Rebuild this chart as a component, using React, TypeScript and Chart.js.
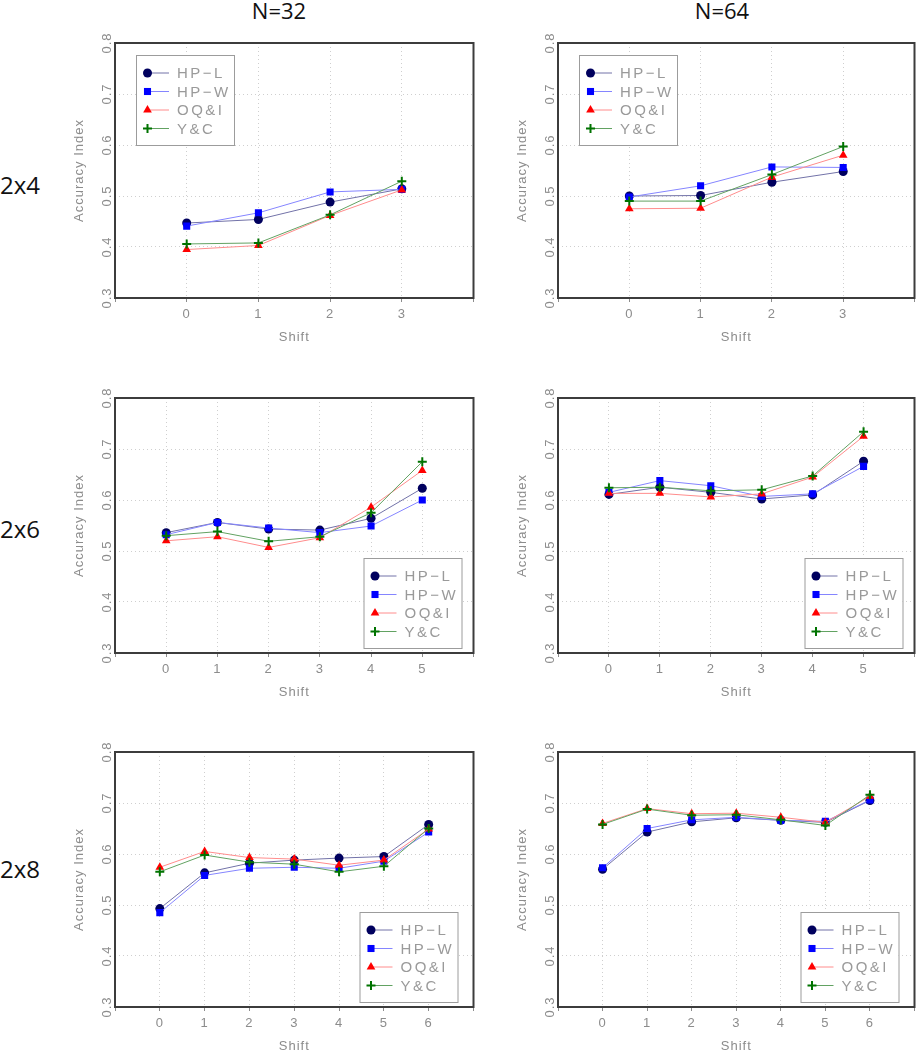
import React, { useEffect, useRef } from 'react';
import { Chart, registerables } from 'chart.js';

Chart.register(...registerables);

// ---- Data ----
const SERIES_LABELS = ['HP\u2212L', 'HP\u2212W', 'OQ&I', 'Y&C'];
const COLUMN_TITLES = ['N=32', 'N=64'];
const ROW_TITLES = ['2x4', '2x6', '2x8'];
const Y_MIN = 0.3;
const Y_MAX = 0.8;

const SHIFTS_2X4 = [0, 1, 2, 3];
const SHIFTS_2X6 = [0, 1, 2, 3, 4, 5];
const SHIFTS_2X8 = [0, 1, 2, 3, 4, 5, 6];

const N32_2X4_HPL = [0.447, 0.454, 0.488, 0.514];
const N32_2X4_HPW = [0.441, 0.467, 0.508, 0.513];
const N32_2X4_OQI = [0.395, 0.403, 0.462, 0.512];
const N32_2X4_YC = [0.406, 0.408, 0.463, 0.529];

const N64_2X4_HPL = [0.5, 0.501, 0.527, 0.548];
const N64_2X4_HPW = [0.498, 0.52, 0.557, 0.556];
const N64_2X4_OQI = [0.475, 0.476, 0.537, 0.58];
const N64_2X4_YC = [0.49, 0.49, 0.542, 0.597];

const N32_2X6_HPL = [0.536, 0.556, 0.543, 0.541, 0.564, 0.623];
const N32_2X6_HPW = [0.532, 0.556, 0.545, 0.536, 0.549, 0.6];
const N32_2X6_OQI = [0.52, 0.528, 0.507, 0.526, 0.586, 0.658];
const N32_2X6_YC = [0.53, 0.538, 0.519, 0.528, 0.575, 0.675];

const N64_2X6_HPL = [0.611, 0.625, 0.615, 0.602, 0.61, 0.676];
const N64_2X6_HPW = [0.615, 0.638, 0.628, 0.607, 0.612, 0.666];
const N64_2X6_OQI = [0.613, 0.613, 0.606, 0.612, 0.645, 0.725];
const N64_2X6_YC = [0.624, 0.625, 0.618, 0.62, 0.647, 0.734];

const N32_2X8_HPL = [0.493, 0.563, 0.582, 0.588, 0.592, 0.595, 0.658];
const N32_2X8_HPW = [0.485, 0.558, 0.572, 0.574, 0.572, 0.586, 0.643];
const N32_2X8_OQI = [0.574, 0.605, 0.593, 0.59, 0.578, 0.588, 0.649];
const N32_2X8_YC = [0.565, 0.598, 0.584, 0.58, 0.565, 0.576, 0.65];

const N64_2X8_HPL = [0.57, 0.643, 0.663, 0.671, 0.666, 0.662, 0.705];
const N64_2X8_HPW = [0.573, 0.65, 0.667, 0.672, 0.666, 0.664, 0.706];
const N64_2X8_OQI = [0.66, 0.689, 0.679, 0.68, 0.672, 0.662, 0.713];
const N64_2X8_YC = [0.658, 0.688, 0.676, 0.677, 0.667, 0.656, 0.716];

// ---- Styles ----
const POINT_COLORS = ['#00005e', '#0000ff', '#ff0000', '#007300'];
const LINE_COLORS = ['#7272a8', '#8585ff', '#ff8c8c', '#62a262'];
const POINT_STYLES = ['circle', 'rect', 'triangle', 'cross'];
const POINT_RADII = [4.5, 5, 5, 4.5];
const AXIS_TEXT = '#8c8c8c';
const FONT = 'Liberation Sans, Arial, sans-serif';

type PanelCfg = {
  shifts: number[];
  series: number[][];
  left: number;
  top: number;
  width: number;
  padRight: number;
  legend: { corner: 'tl' | 'br'; dx: number; dy: number };
};

const PANELS: PanelCfg[] = [
  { shifts: SHIFTS_2X4, series: [N32_2X4_HPL, N32_2X4_HPW, N32_2X4_OQI, N32_2X4_YC], left: 60, top: 25, width: 420, padRight: 5, legend: { corner: 'tl', dx: 21, dy: 12 } },
  { shifts: SHIFTS_2X4, series: [N64_2X4_HPL, N64_2X4_HPW, N64_2X4_OQI, N64_2X4_YC], left: 503, top: 25, width: 418, padRight: 3, legend: { corner: 'tl', dx: 21, dy: 12 } },
  { shifts: SHIFTS_2X6, series: [N32_2X6_HPL, N32_2X6_HPW, N32_2X6_OQI, N32_2X6_YC], left: 60, top: 380, width: 420, padRight: 5, legend: { corner: 'br', dx: 12, dy: 5 } },
  { shifts: SHIFTS_2X6, series: [N64_2X6_HPL, N64_2X6_HPW, N64_2X6_OQI, N64_2X6_YC], left: 503, top: 380, width: 418, padRight: 3, legend: { corner: 'br', dx: 12, dy: 5 } },
  { shifts: SHIFTS_2X8, series: [N32_2X8_HPL, N32_2X8_HPW, N32_2X8_OQI, N32_2X8_YC], left: 60, top: 734, width: 420, padRight: 5, legend: { corner: 'br', dx: 16, dy: 5 } },
  { shifts: SHIFTS_2X8, series: [N64_2X8_HPL, N64_2X8_HPW, N64_2X8_OQI, N64_2X8_YC], left: 503, top: 734, width: 418, padRight: 3, legend: { corner: 'br', dx: 16, dy: 5 } },
];

const CANVAS_H = 320;

function drawMarker(ctx: CanvasRenderingContext2D, style: string, x: number, y: number, r: number, color: string) {
  ctx.save();
  ctx.fillStyle = color;
  ctx.strokeStyle = color;
  ctx.beginPath();
  if (style === 'circle') {
    ctx.arc(x, y, r, 0, Math.PI * 2);
    ctx.fill();
  } else if (style === 'rect') {
    const s = r * Math.SQRT1_2;
    ctx.rect(x - s, y - s, 2 * s, 2 * s);
    ctx.fill();
  } else if (style === 'triangle') {
    for (let k = 0; k < 3; k++) {
      const a = (k * 2 * Math.PI) / 3;
      const px = x + Math.sin(a) * r;
      const py = y - Math.cos(a) * r;
      if (k === 0) ctx.moveTo(px, py);
      else ctx.lineTo(px, py);
    }
    ctx.closePath();
    ctx.fill();
  } else {
    ctx.lineWidth = 2;
    ctx.moveTo(x - r, y);
    ctx.lineTo(x + r, y);
    ctx.moveTo(x, y - r);
    ctx.lineTo(x, y + r);
    ctx.stroke();
  }
  ctx.restore();
}

const framePlugin = {
  id: 'frameBox',
  beforeLayout(chart: any) {
    chart.ctx.letterSpacing = '1px';
  },
  beforeDraw(chart: any) {
    chart.ctx.letterSpacing = '1px';
  },
  beforeDatasetsDraw(chart: any) {
    const { ctx, chartArea: a } = chart;
    ctx.save();
    ctx.strokeStyle = '#3c3c3c';
    ctx.lineWidth = 2;
    ctx.strokeRect(a.left, a.top, a.right - a.left, a.bottom - a.top);
    ctx.restore();
  },
  afterDatasetsDraw(chart: any, _args: any, opts: any) {
    const { ctx, chartArea: a } = chart;
    const w = 98;
    const h = 90;
    const bx = opts.corner === 'tl' ? a.left + opts.dx : a.right - opts.dx - w;
    const by = opts.corner === 'tl' ? a.top + opts.dy : a.bottom - opts.dy - h;
    ctx.save();
    ctx.fillStyle = '#ffffff';
    ctx.fillRect(bx, by, w, h);
    ctx.strokeStyle = '#9c9c9c';
    ctx.lineWidth = 1;
    ctx.strokeRect(bx + 0.5, by + 0.5, w, h);
    chart.data.datasets.forEach((ds: any, i: number) => {
      const y = by + 18 + i * 18.5;
      const mx = bx + 11.5;
      ctx.strokeStyle = ds.borderColor;
      ctx.lineWidth = 1;
      ctx.beginPath();
      ctx.moveTo(mx, y);
      ctx.lineTo(bx + 33, y);
      ctx.stroke();
      drawMarker(ctx, ds.pointStyle, mx, y, ds.pointRadius, ds.pointBackgroundColor);
      ctx.fillStyle = '#9a9a9a';
      ctx.font = `15px ${FONT}`;
      (ctx as any).letterSpacing = '2.5px';
      ctx.textBaseline = 'middle';
      ctx.textAlign = 'left';
      ctx.fillText(ds.label, bx + 41, y + 1);
    });
    ctx.restore();
  },
};

function Panel({ cfg }: { cfg: PanelCfg }) {
  const ref = useRef<HTMLCanvasElement>(null);
  useEffect(() => {
    const shifts = cfg.shifts;
    const chart = new Chart(ref.current as HTMLCanvasElement, {
      type: 'line',
      data: {
        datasets: SERIES_LABELS.map((label, i) => ({
          label,
          data: shifts.map((s, j) => ({ x: s, y: cfg.series[i][j] })),
          borderColor: LINE_COLORS[i],
          borderWidth: 1,
          pointStyle: POINT_STYLES[i] as any,
          pointRadius: POINT_RADII[i],
          pointBackgroundColor: POINT_COLORS[i],
          pointBorderColor: POINT_COLORS[i],
          pointBorderWidth: i === 3 ? 2 : 0,
          order: 4 - i,
          tension: 0,
          fill: false,
        })),
      },
      options: {
        animation: false,
        responsive: false,
        devicePixelRatio: 1,
        layout: { padding: { top: 18, right: cfg.padRight, left: 0, bottom: 0 } },
        plugins: {
          legend: { display: false },
          tooltip: { enabled: false },
          frameBox: cfg.legend,
        } as any,
        scales: {
          x: {
            type: 'linear',
            min: -1,
            max: shifts.length,
            afterFit: (s: any) => {
              s.height = 47;
            },
            ticks: {
              stepSize: 1,
              autoSkip: false,
              maxRotation: 0,
              padding: 5,
              color: AXIS_TEXT,
              font: { family: FONT, size: 13 },
              callback: (v: any) => (shifts.includes(Number(v)) ? String(v) : ''),
            },
            grid: {
              color: '#cfcfcf',
              drawTicks: true,
              tickLength: 4,
              tickColor: '#8c8c8c',
              tickBorderDash: [],
            } as any,
            border: { display: false, dash: [1, 3] },
            title: {
              display: true,
              text: 'Shift',
              color: AXIS_TEXT,
              font: { family: FONT, size: 13 },
              padding: { top: 0, bottom: 0 },
            },
          },
          y: {
            type: 'linear',
            min: Y_MIN,
            max: Y_MAX,
            afterFit: (s: any) => {
              s.width = 55;
            },
            ticks: {
              stepSize: 0.1,
              minRotation: 90,
              maxRotation: 90,
              crossAlign: 'center',
              padding: -3,
              color: AXIS_TEXT,
              font: { family: FONT, size: 13 },
              callback: (v: any) => Number(v).toFixed(1),
            },
            grid: { color: '#cfcfcf', drawTicks: false },
            border: { display: false, dash: [1, 3] },
            title: {
              display: true,
              text: 'Accuracy Index',
              color: AXIS_TEXT,
              font: { family: FONT, size: 13 },
              padding: { top: 12, bottom: 0 },
            },
          },
        },
      },
      plugins: [framePlugin],
    } as any);
    return () => chart.destroy();
  }, [cfg]);
  return (
    <canvas
      ref={ref}
      width={cfg.width}
      height={CANVAS_H}
      style={{ position: 'absolute', left: cfg.left, top: cfg.top, width: cfg.width, height: CANVAS_H }}
    />
  );
}

const headerStyle: React.CSSProperties = {
  position: 'absolute',
  fontFamily: '"Open Sans", "Noto Sans", sans-serif',
  fontSize: 22,
  lineHeight: '22px',
  color: '#111',
  whiteSpace: 'nowrap',
  textAlign: 'center',
  width: 120,
};

const rowStyle: React.CSSProperties = {
  position: 'absolute',
  fontFamily: '"Open Sans", "Noto Sans", sans-serif',
  fontSize: 24,
  lineHeight: '24px',
  color: '#111',
  whiteSpace: 'nowrap',
  left: 0,
};

export default function App() {
  return (
    <div
      style={{
        position: 'absolute',
        left: 0,
        top: 0,
        width: 921,
        height: 1050,
        overflow: 'hidden',
        background: '#ffffff',
      }}
    >
      <div style={{ ...headerStyle, left: 279 - 60, top: -1 }}>{COLUMN_TITLES[0]}</div>
      <div style={{ ...headerStyle, left: 722 - 60, top: -1 }}>{COLUMN_TITLES[1]}</div>
      <div style={{ ...rowStyle, top: 173 }}>{ROW_TITLES[0]}</div>
      <div style={{ ...rowStyle, top: 517 }}>{ROW_TITLES[1]}</div>
      <div style={{ ...rowStyle, top: 857 }}>{ROW_TITLES[2]}</div>
      {PANELS.map((p, i) => (
        <Panel key={i} cfg={p} />
      ))}
    </div>
  );
}
